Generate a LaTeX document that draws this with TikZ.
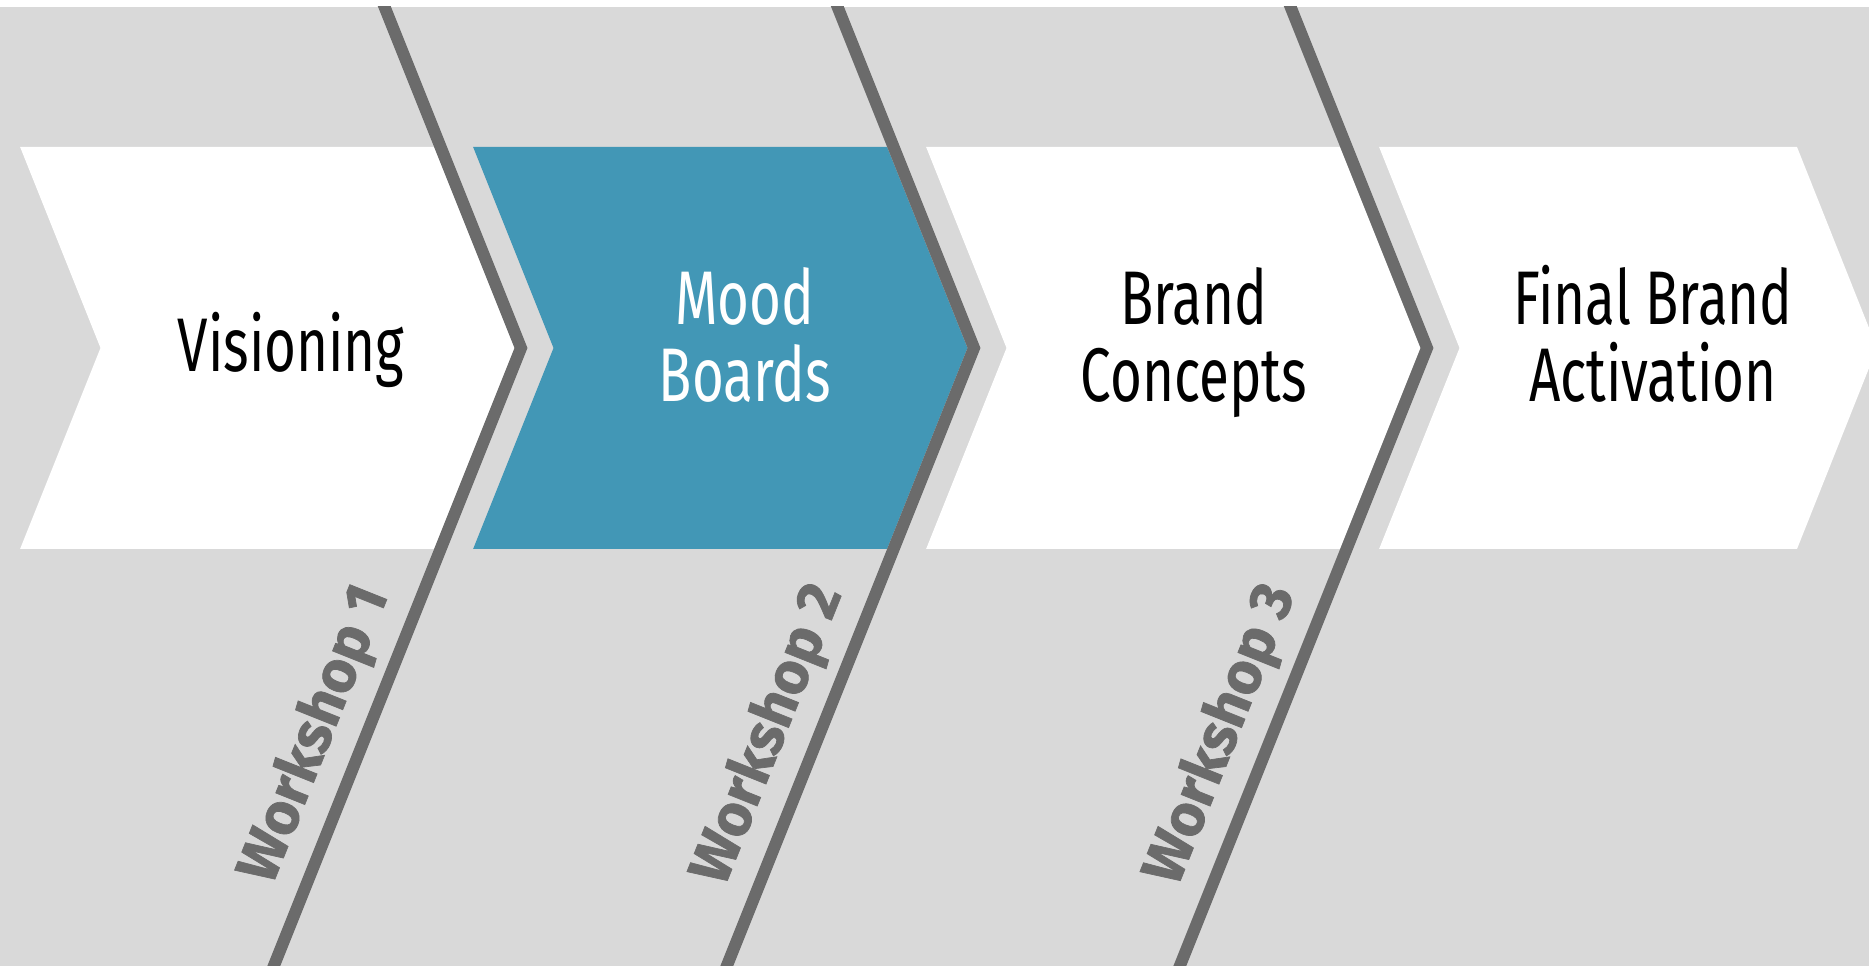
\documentclass[tikz,border=0pt]{standalone}
\usepackage{fontspec}
\setmainfont{Fira Sans}
\newfontfamily\labelfont[FakeStretch=0.72]{Fira Sans}
\newfontfamily\wsfont[BoldFeatures={FakeBold=1.2}]{Fira Sans}
\usetikzlibrary{calc}
\definecolor{bggray}{HTML}{D9D9D9}
\definecolor{linegray}{HTML}{6B6B6B}
\definecolor{moodblue}{HTML}{4297B6}
\begin{document}
\begin{tikzpicture}[x=1pt,y=1pt,
  sep/.style={draw=linegray, line width=12pt, line join=miter},
  steplabel/.style={font=\labelfont\fontsize{76}{77}\selectfont, align=center, inner sep=0pt, anchor=base},
  wslabel/.style={font=\wsfont\bfseries\fontsize{59}{64}\selectfont, text=linegray, rotate=68.2, inner sep=0pt}]
\useasboundingbox (0,0) rectangle (1869,966);
\fill[white] (0,0) rectangle (1869,966);
\fill[bggray] (0,0) rectangle (1869,959);
% chevrons
\foreach \tl/\col in {20.1/white, 473.1/moodblue, 926.1/white}{
  \fill[\col] (\tl,819) -- ({\tl+414},819) -- ({\tl+494.4},618) -- ({\tl+414},417)
     -- (\tl,417) -- ({\tl+80.4},618) -- cycle;
}
\fill[white] (1379.1,819) -- (1797,819) -- (1877,618) -- (1797,417)
     -- (1379.1,417) -- (1459.5,618) -- cycle;
% separator lines
\foreach \i/\L in {1/521, 2/974, 3/1427}{
  \coordinate (top\i) at ({\L-144.8},980);
  \coordinate (tip\i) at (\L,618);
  \coordinate (bot\i) at ({\L-255.2},-20);
}
\begin{scope}
  \clip (0,0) rectangle (1869,959);
  \draw[sep] (top1) -- (tip1) -- (bot1);
  \draw[sep] (top2) -- (tip2) -- (bot2);
  \draw[sep] (top3) -- (tip3) -- (bot3);
\end{scope}
% step labels (base anchor = baseline of the last line)
\node[steplabel] (vis) at (291,594) {Visioning};
\node[steplabel, text=white] (mood) at (745,564) {Mood\\Boards};
\node[steplabel] (brand) at (1194,564) {Brand\\Concepts};
\node[steplabel] (final) at (1653,564) {Final Brand\\Activation};
% workshop labels
\node[wslabel] (ws1) at ($(tip1)!0.6332!(bot1)+(158.2:47)$) {Workshop 1};
\node[wslabel] (ws2) at ($(tip2)!0.6332!(bot2)+(158.2:47)$) {Workshop 2};
\node[wslabel] (ws3) at ($(tip3)!0.6332!(bot3)+(158.2:47)$) {Workshop 3};
\end{tikzpicture}
\end{document}
